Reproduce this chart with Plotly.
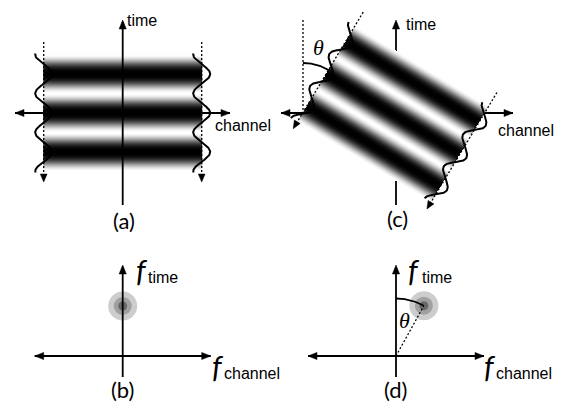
import numpy as np
import plotly.graph_objects as go

W, H = 561, 403

# ---------------- named values (pixel canvas units) ----------------
panel_labels = ["(a)", "(b)", "(c)", "(d)"]
panel_label_x = [124, 122, 397, 395]
panel_label_y = [220, 389, 218, 389]

space_axis_names = ["time", "channel"]
freq_axis_names = ["time", "channel"]

# origins of the four coordinate systems
origin_x = [122.7, 122.7, 396, 396]
origin_y = [113, 356, 113, 356]

# stripe bands: centre x, centre y, half width, half height, period, tilt (deg)
band_cx = [122.7, 393]
band_cy = [113, 114]
band_hw = [79, 78]
band_hh = [59.5, 56]
band_period = [39, 37.5]
band_tilt = [0, 31]
wave_amp = [8.5, 7.5]
dash_top = [71, 72]
dash_tip = [-69, -64]

# spectral peaks
peak_radius = [50, 57.5]
peak_angle = [0, 29]
ring_sizes = [29, 18, 9]
ring_colors = ["#cdcdcd", "#a0a0a0", "#676767"]

GAMMA = 1.45
LW = 1.8

fig = go.Figure()


def stripe(v, period):
    return (0.5 - 0.5 * np.cos(2 * np.pi * v / period)) ** GAMMA


def to_img(u, v, i):
    t = np.radians(band_tilt[i])
    X = u * np.cos(t) + v * np.sin(t)
    Y = -u * np.sin(t) + v * np.cos(t)
    return band_cx[i] + X, band_cy[i] - Y


def arrow_poly(tip, d, L=9.0, hw=3.6):
    d = np.array(d, float)
    d /= np.linalg.norm(d)
    p = np.array([-d[1], d[0]])
    t = np.array(tip, float)
    b = t - L * d
    pts = [t, b + hw * p, b - hw * p, t]
    return [q[0] for q in pts], [q[1] for q in pts]


arrows_x, arrows_y = [], []


def add_arrow(tip, d, **kw):
    ax_, ay_ = arrow_poly(tip, d, **kw)
    arrows_x.extend(ax_ + [None])
    arrows_y.extend(ay_ + [None])


shapes = []


def axis_line(x0, y0, x1, y1, layer="above"):
    shapes.append(dict(type="line", xref="x", yref="y", x0=x0, y0=y0, x1=x1, y1=y1,
                       line=dict(color="black", width=LW), layer=layer))


# ---------------- (c) axes, underneath the tilted band ----------------
axis_line(281, origin_y[2], 513, origin_y[2], layer="below")
axis_line(origin_x[2], 205, origin_x[2], 22, layer="below")
add_arrow((281, origin_y[2]), (-1, 0))
add_arrow((513, origin_y[2]), (1, 0))
add_arrow((origin_x[2], 20), (0, -1))

# ---------------- (a) band heatmap ----------------
xa = np.arange(band_cx[0] - band_hw[0], band_cx[0] + band_hw[0] + 0.5, 1.0)
ya = np.arange(band_cy[0] - band_hh[0], band_cy[0] + band_hh[0] + 0.5, 1.0)
za = np.tile(stripe(band_cy[0] - ya, band_period[0])[:, None], (1, len(xa)))
fig.add_trace(go.Heatmap(x=xa, y=ya, z=za, zmin=0, zmax=1,
                         colorscale=[[0, "#000000"], [1, "#ffffff"]],
                         showscale=False, hoverinfo="skip"))

# ---------------- (c) tilted band heatmap ----------------
step = 0.5
xc = np.arange(283, 505, step)
yc = np.arange(10, 215, step)
XX, YY = np.meshgrid(xc, yc)
t = np.radians(band_tilt[1])
dx = XX - band_cx[1]
dy = band_cy[1] - YY
U = dx * np.cos(t) - dy * np.sin(t)
V = dx * np.sin(t) + dy * np.cos(t)
zc = stripe(V, band_period[1])
zc[(np.abs(U) > band_hw[1]) | (np.abs(V) > band_hh[1])] = np.nan
fig.add_trace(go.Heatmap(x=xc, y=yc, z=zc, zmin=0, zmax=1,
                         colorscale=[[0, "#000000"], [1, "#ffffff"]],
                         showscale=False, hoverinfo="skip"))

# ---------------- (a) axes on top of band ----------------
axis_line(15, origin_y[0], 230, origin_y[0])
axis_line(origin_x[0], 205, origin_x[0], 22)
add_arrow((15, origin_y[0]), (-1, 0))
add_arrow((230, origin_y[0]), (1, 0))
add_arrow((origin_x[0], 20), (0, -1))

# ---------------- dashed edge lines + waves for (a) and (c) ----------------
for i in range(2):
    for side in (-1, 1):
        u = side * band_hw[i]
        x0, y0 = to_img(u, dash_top[i], i)
        x1, y1 = to_img(u, dash_tip[i], i)
        fig.add_trace(go.Scatter(x=[x0, x1], y=[y0, y1], mode="lines",
                                 line=dict(color="black", width=1.3, dash="2px,2px"),
                                 hoverinfo="skip", showlegend=False))
        add_arrow((x1, y1), (x1 - x0, y1 - y0), L=8, hw=3.4)
        vv = np.linspace(-band_hh[i], band_hh[i], 200)
        uu = u + wave_amp[i] * np.cos(2 * np.pi * vv / band_period[i])
        wx, wy = to_img(uu, vv, i)
        fig.add_trace(go.Scatter(x=wx, y=wy, mode="lines",
                                 line=dict(color="black", width=2),
                                 hoverinfo="skip", showlegend=False))

# (c) vertical reference and theta arc
pivot_x, pivot_y = 303, 113
fig.add_trace(go.Scatter(x=[pivot_x, pivot_x], y=[20, pivot_y], mode="lines",
                         line=dict(color="black", width=1.3, dash="2px,2px"),
                         hoverinfo="skip", showlegend=False))
ang = np.radians(np.linspace(90, 90 - band_tilt[1], 40))
fig.add_trace(go.Scatter(x=pivot_x + 50 * np.cos(ang), y=pivot_y - 50 * np.sin(ang),
                         mode="lines", line=dict(color="black", width=LW),
                         hoverinfo="skip", showlegend=False))

# ---------------- (b), (d) frequency axes ----------------
for k in (1, 3):
    ox, oy = origin_x[k], origin_y[k]
    axis_line(ox - 88, oy, ox + 88, oy)
    axis_line(ox, oy + 21, ox, oy - 89)
    add_arrow((ox - 88, oy), (-1, 0))
    add_arrow((ox + 88, oy), (1, 0))
    add_arrow((ox, oy - 91), (0, -1))

# peaks
for j, k in enumerate((1, 3)):
    ox, oy = origin_x[k], origin_y[k]
    a = np.radians(peak_angle[j])
    px = ox + peak_radius[j] * np.sin(a)
    py = oy - peak_radius[j] * np.cos(a)
    for s, c in zip(ring_sizes, ring_colors):
        fig.add_trace(go.Scatter(x=[px], y=[py], mode="markers",
                                 marker=dict(size=s, color=c, line=dict(width=0)),
                                 hoverinfo="skip", showlegend=False))
    if j == 1:
        fig.add_trace(go.Scatter(x=[ox, px], y=[oy, py], mode="lines",
                                 line=dict(color="black", width=1.3, dash="2px,2px"),
                                 hoverinfo="skip", showlegend=False))
        angd = np.radians(np.linspace(90, 90 - peak_angle[j], 40))
        fig.add_trace(go.Scatter(x=ox + peak_radius[j] * np.cos(angd),
                                 y=oy - peak_radius[j] * np.sin(angd),
                                 mode="lines", line=dict(color="black", width=LW),
                                 hoverinfo="skip", showlegend=False))

# arrowheads
fig.add_trace(go.Scatter(x=arrows_x, y=arrows_y, mode="lines", fill="toself",
                         fillcolor="black", line=dict(color="black", width=0.5),
                         hoverinfo="skip", showlegend=False))

# ---------------- text ----------------
ann = []
SANS = "Liberation Sans, Arial, sans-serif"
for txt, x, y in zip(panel_labels, panel_label_x, panel_label_y):
    ann.append(dict(text=txt, x=x, y=y, xanchor="center", yanchor="middle",
                    font=dict(family="Lato, sans-serif", size=22, color="black")))
# space-domain axis names
ann.append(dict(text=space_axis_names[0], x=125, y=20, xanchor="left", yanchor="middle",
                font=dict(family=SANS, size=16, color="black")))
ann.append(dict(text=space_axis_names[0], x=404, y=24, xanchor="left", yanchor="middle",
                font=dict(family=SANS, size=16, color="black")))
ann.append(dict(text=space_axis_names[1], x=213, y=125, xanchor="left", yanchor="middle",
                font=dict(family=SANS, size=16, color="black")))
ann.append(dict(text=space_axis_names[1], x=496, y=130, xanchor="left", yanchor="middle",
                font=dict(family=SANS, size=16, color="black")))
# frequency labels
for fx, sx in ((134, 146), (406, 420)):
    ann.append(dict(text="<i>f</i>", x=fx, y=270, xanchor="left", yanchor="middle",
                    font=dict(family="Lato, sans-serif", size=30, color="black")))
    ann.append(dict(text=freq_axis_names[0], x=sx, y=277, xanchor="left", yanchor="middle",
                    font=dict(family=SANS, size=16, color="black")))
for fx, sx in ((210, 222), (482, 494)):
    ann.append(dict(text="<i>f</i>", x=fx, y=366, xanchor="left", yanchor="middle",
                    font=dict(family="Lato, sans-serif", size=30, color="black")))
    ann.append(dict(text=freq_axis_names[1], x=sx, y=373, xanchor="left", yanchor="middle",
                    font=dict(family=SANS, size=16, color="black")))
# theta labels
SERIF = "Liberation Serif, Times New Roman, serif"
ann.append(dict(text="<i>θ</i>", x=318, y=47, xanchor="center", yanchor="middle",
                font=dict(family=SERIF, size=22, color="black")))
ann.append(dict(text="<i>θ</i>", x=404, y=320, xanchor="center", yanchor="middle",
                font=dict(family=SERIF, size=22, color="black")))
for a in ann:
    a.update(xref="x", yref="y", showarrow=False)

fig.update_layout(
    width=W, height=H, margin=dict(l=0, r=0, t=0, b=0),
    paper_bgcolor="white", plot_bgcolor="white", showlegend=False,
    xaxis=dict(range=[0, W], visible=False, fixedrange=True),
    yaxis=dict(range=[H, 0], visible=False, fixedrange=True),
    shapes=shapes, annotations=ann,
)

fig.write_html("out.html")
